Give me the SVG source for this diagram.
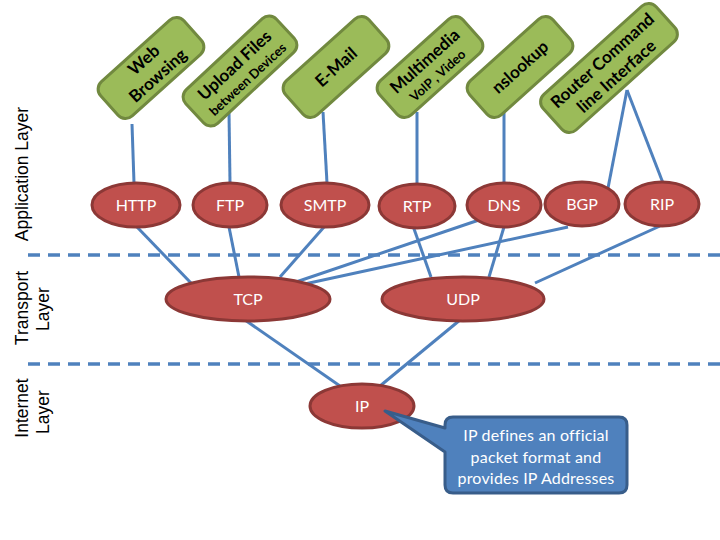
<svg xmlns="http://www.w3.org/2000/svg" width="720" height="540" viewBox="0 0 720 540">
<style>
.app rect{fill:#9BBB59;stroke:#71893F;stroke-width:3}
.app text{font-family:Lato,"Open Sans",sans-serif;font-weight:bold;fill:#000;text-anchor:middle;font-size:17px}
.app text.s{font-size:13px}
.proto ellipse{fill:#C0504D;stroke:#8C3836;stroke-width:3}
.proto text{font-family:Lato,"Open Sans",sans-serif;fill:#fff;text-anchor:middle;font-size:16px}
.conn line{stroke:#4F81BD;stroke-width:3}
.sep{stroke:#4F81BD;stroke-width:3.5;stroke-dasharray:12 8}
.lbl{font-family:"Liberation Sans",Arial,sans-serif;font-size:17.5px;fill:#000;text-anchor:middle}
.call{fill:#4F81BD;stroke:#385D8A;stroke-width:3;stroke-linejoin:round}
.call-t{font-family:Lato,"Open Sans",sans-serif;fill:#fff;text-anchor:middle;font-size:16px;letter-spacing:0.2px}
</style>
<rect width="720" height="540" fill="#fff"/>
<g id="separators">
<line class="sep" x1="28" y1="255" x2="720" y2="255"/>
<line class="sep" x1="28" y1="364" x2="720" y2="364"/>
</g>
<g id="layer-labels">
<text class="lbl" transform="translate(28,174) rotate(-90)">Application Layer</text>
<text class="lbl" transform="translate(28,308) rotate(-90)">Transport</text>
<text class="lbl" transform="translate(49,309) rotate(-90)">Layer</text>
<text class="lbl" transform="translate(28,408) rotate(-90)">Internet</text>
<text class="lbl" transform="translate(49,412) rotate(-90)">Layer</text>
</g>
<g id="connectors" class="conn">
<line x1="132" y1="124" x2="134" y2="183"/>
<line x1="229" y1="112" x2="230" y2="183"/>
<line x1="323" y1="112" x2="327" y2="183"/>
<line x1="417" y1="112" x2="417" y2="184"/>
<line x1="504" y1="113" x2="504" y2="183"/>
<line x1="627" y1="90" x2="608" y2="188"/>
<line x1="627" y1="90" x2="663" y2="183"/>
<line x1="137" y1="227" x2="191" y2="283"/>
<line x1="229" y1="227" x2="239" y2="277"/>
<line x1="324" y1="227" x2="280" y2="277"/>
<line x1="479" y1="220" x2="296" y2="282"/>
<line x1="568" y1="227" x2="300" y2="285"/>
<line x1="413" y1="226" x2="431" y2="277"/>
<line x1="504" y1="227" x2="489" y2="277"/>
<line x1="660" y1="226" x2="535" y2="283"/>
<line x1="245" y1="320" x2="340" y2="386"/>
<line x1="460" y1="320" x2="380" y2="386"/>
</g>
<g id="web" class="app" transform="translate(151,68) rotate(-42)">
<rect x="-56" y="-23" width="112" height="46" rx="10"/>
<text y="-5">Web</text><text y="16">Browsing</text>
</g>
<g id="upload" class="app" transform="translate(240,71) rotate(-43)">
<rect x="-62" y="-23" width="124" height="46" rx="10"/>
<text y="-2">Upload Files</text><text class="s" y="16">between Devices</text>
</g>
<g id="email" class="app" transform="translate(336,67) rotate(-42)">
<rect x="-56" y="-23" width="112" height="46" rx="10"/>
<text y="6">E-Mail</text>
</g>
<g id="multimedia" class="app" transform="translate(430,67) rotate(-42)">
<rect x="-56" y="-23" width="112" height="46" rx="10"/>
<text y="-2">Multimedia</text><text class="s" y="16">VoIP , Video</text>
</g>
<g id="nslookup" class="app" transform="translate(520,67) rotate(-42)">
<rect x="-56" y="-23" width="112" height="46" rx="10"/>
<text y="6">nslookup</text>
</g>
<g id="router" class="app" transform="translate(609,68) rotate(-42)">
<rect x="-76" y="-24" width="152" height="48" rx="10"/>
<text y="-4">Router Command</text><text y="17">line Interface</text>
</g>
<g id="http" class="proto"><ellipse cx="136" cy="205" rx="44" ry="22"/><text x="136" y="211">HTTP</text></g>
<g id="ftp" class="proto"><ellipse cx="230" cy="205" rx="37" ry="22"/><text x="230" y="211">FTP</text></g>
<g id="smtp" class="proto"><ellipse cx="325" cy="205" rx="44" ry="22"/><text x="325" y="211">SMTP</text></g>
<g id="rtp" class="proto"><ellipse cx="417" cy="206" rx="38" ry="22"/><text x="417" y="212">RTP</text></g>
<g id="dns" class="proto"><ellipse cx="504" cy="205" rx="37" ry="22"/><text x="504" y="211">DNS</text></g>
<g id="bgp" class="proto"><ellipse cx="582" cy="204" rx="37" ry="22"/><text x="582" y="210">BGP</text></g>
<g id="rip" class="proto"><ellipse cx="662" cy="204" rx="37" ry="22"/><text x="662" y="210">RIP</text></g>
<g id="tcp" class="proto"><ellipse cx="248" cy="299" rx="82" ry="22"/><text x="248" y="305">TCP</text></g>
<g id="udp" class="proto"><ellipse cx="463" cy="299" rx="81" ry="22"/><text x="463" y="305">UDP</text></g>
<g id="ip" class="proto"><ellipse cx="362" cy="406" rx="52" ry="22"/><text x="362" y="412">IP</text></g>
<g id="callout">
<path class="call" d="M453,417 H619 Q627,417 627,425 V485 Q627,493 619,493 H453 Q445,493 445,485 V452 L385,411 L445,428 V425 Q445,417 453,417 Z"/>
<text class="call-t" x="536" y="441">IP defines an official</text>
<text class="call-t" x="536" y="463">packet format  and</text>
<text class="call-t" x="536" y="484">provides IP Addresses</text>
</g>
</svg>
